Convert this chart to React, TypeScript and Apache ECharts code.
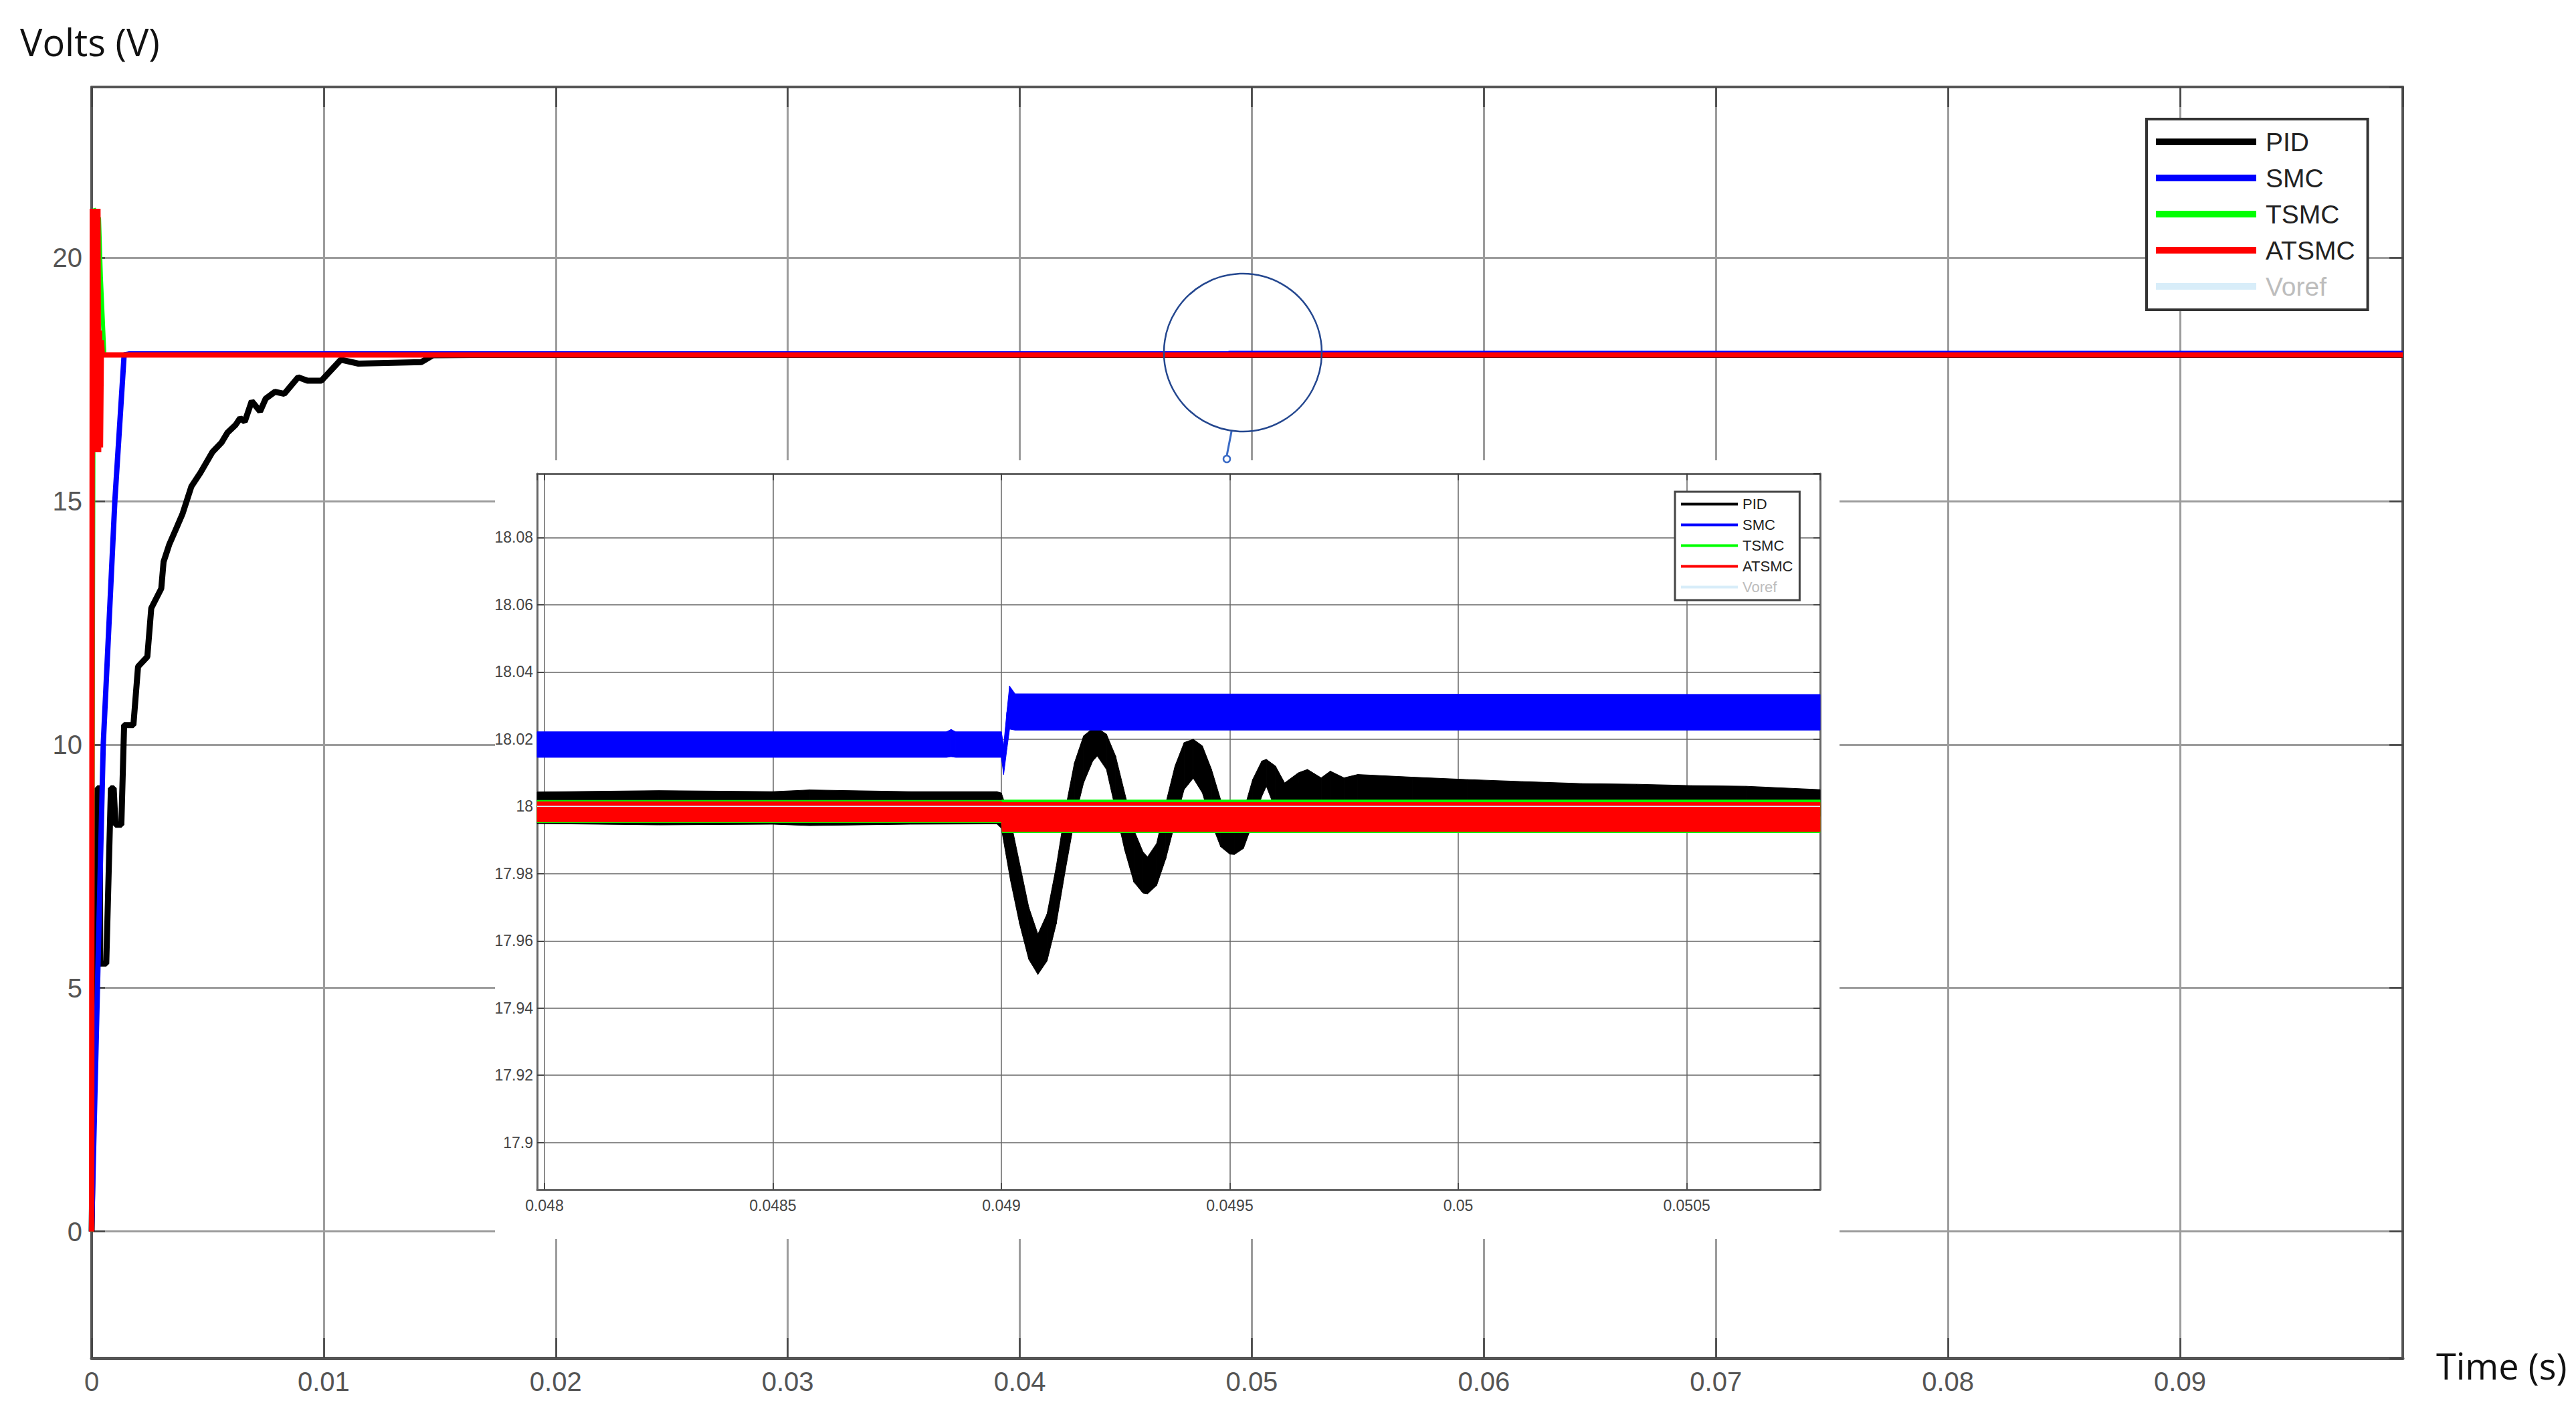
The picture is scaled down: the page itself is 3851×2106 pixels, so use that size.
import React, { useEffect, useRef } from "react";
import * as echarts from "echarts";

// ---------- series identity ----------
const seriesNames = ["PID", "SMC", "TSMC", "ATSMC", "Voref"];
const seriesColors = ["#000000", "#0000ff", "#00ff00", "#ff0000", "#d8edf9"];

// ---------- main chart (time s, volts V) ----------
const vorefTime = [0, 0.0996];
const vorefVolts = [18, 18];

const pidTime = [0, 0.00012, 0.00025, 0.00035, 0.00037, 0.00063, 0.00083, 0.00095, 0.00103, 0.00128, 0.0014, 0.0018, 0.002, 0.0024, 0.00257, 0.003, 0.0031, 0.00334, 0.00366, 0.00392, 0.0043, 0.00469, 0.0052, 0.0056, 0.00585, 0.0062, 0.0064, 0.0066, 0.0069, 0.00726, 0.0075, 0.0079, 0.0083, 0.0089, 0.0093, 0.0099, 0.01074, 0.0115, 0.0142, 0.0147, 0.0167, 0.0996];
const pidVolts = [0, 4.5, 9.1, 9.1, 5.5, 5.5, 9.1, 9.1, 8.35, 8.35, 10.4, 10.4, 11.6, 11.8, 12.8, 13.2, 13.75, 14.1, 14.45, 14.74, 15.3, 15.58, 16.0, 16.2, 16.4, 16.56, 16.7, 16.63, 17.05, 16.84, 17.1, 17.24, 17.2, 17.54, 17.47, 17.47, 17.9, 17.82, 17.85, 17.99, 18.0, 18.0];

const smcTime = [0, 0.00025, 0.0005, 0.001, 0.0014, 0.0016, 0.049, 0.04902, 0.0996];
const smcVolts = [0, 5, 10, 15, 18, 18.018, 18.018, 18.028, 18.028];

const tsmcTime = [0, 0.0001, 0.00032, 0.0004, 0.00055, 0.0996];
const tsmcVolts = [0, 21, 20.8, 19.6, 18, 18];

const atsmcTime = [0, 0.00003, 0.00006, 0.00009, 0.00012, 0.00015, 0.00018, 0.00021, 0.00024, 0.00027, 0.0003, 0.00034, 0.00038, 0.00042, 0.00046, 0.0996];
const atsmcVolts = [0, 21, 16, 21, 16, 21, 16, 21, 16, 21, 16, 18.5, 16.1, 18.3, 18, 18];

// ---------- inset (zoom around t = 0.049 s): ripple bands, top / bottom envelopes ----------
const pidInTime = [0.047984, 0.04825, 0.0485, 0.04858, 0.0488, 0.04899, 0.049, 0.04902, 0.04904, 0.04906, 0.04908, 0.0491, 0.04912, 0.04914, 0.04916, 0.04918, 0.0492, 0.04921, 0.04923, 0.04925, 0.04927, 0.04929, 0.04931, 0.04932, 0.04934, 0.04936, 0.04938, 0.0494, 0.04942, 0.04944, 0.04946, 0.04948, 0.0495, 0.04951, 0.04953, 0.04955, 0.04957, 0.04958, 0.0496, 0.04962, 0.04965, 0.04967, 0.0497, 0.04972, 0.04975, 0.04978, 0.0499, 0.05002, 0.05014, 0.05027, 0.05039, 0.05051, 0.05063, 0.050792];
const pidInTop = [18.0043, 18.0047, 18.0044, 18.0049, 18.0044, 18.0044, 18.004, 17.996, 17.983, 17.97, 17.962, 17.968, 17.982, 17.999, 18.013, 18.021, 18.0232, 18.0233, 18.0215, 18.015, 18.004, 17.993, 17.9865, 17.985, 17.989, 18.001, 18.012, 18.019, 18.02, 18.018, 18.011, 18.002, 17.9945, 17.9924, 17.9985, 18.008, 18.0135, 18.014, 18.012, 18.007, 18.01, 18.011, 18.0085, 18.0105, 18.0085, 18.0095, 18.0087, 18.008, 18.0074, 18.0068, 18.0066, 18.0062, 18.006, 18.005];
const pidInBottom = [17.9949, 17.9945, 17.9947, 17.9943, 17.9947, 17.9948, 17.9935, 17.978, 17.965, 17.9545, 17.95, 17.954, 17.965, 17.981, 17.996, 18.007, 18.0135, 18.015, 18.011, 17.999, 17.987, 17.9775, 17.9742, 17.974, 17.9765, 17.9845, 17.995, 18.005, 18.0084, 18.004, 17.995, 17.988, 17.9858, 17.9857, 17.9875, 17.995, 18.003, 18.006, 17.999, 17.9975, 17.997, 17.997, 17.997, 17.997, 17.997, 17.997, 17.997, 17.997, 17.997, 17.997, 17.997, 17.997, 17.997, 17.997];

const smcInTime = [0.047984, 0.04888, 0.04889, 0.0489, 0.049, 0.049005, 0.049012, 0.049018, 0.04903, 0.050792];
const smcInTop = [18.0222, 18.0222, 18.0229, 18.0222, 18.0222, 18.018, 18.028, 18.0358, 18.0335, 18.0333];
const smcInBottom = [18.0146, 18.0146, 18.0148, 18.0146, 18.0146, 18.0095, 18.017, 18.023, 18.0227, 18.0227];

const tsmcInTime = [0.047984, 0.049, 0.049002, 0.050792];
const tsmcInTop = [18.0018, 18.0018, 18.0019, 18.0019];
const tsmcInBottom = [17.9952, 17.9952, 17.9922, 17.9922];

const atsmcInTime = [0.047984, 0.049, 0.049002, 0.050792];
const atsmcInTop = [18.0014, 18.0014, 18.0012, 18.0012];
const atsmcInBottom = [17.9954, 17.9954, 17.9925, 17.9925];

const vorefInTime = [0.047984, 0.050792];
const vorefInVolts = [18, 18];

// ---------- helpers ----------
const FONT = "Liberation Sans";

function mainLine(idx: number, t: number[], v: number[], width: number) {
  return {
    type: "line",
    name: seriesNames[idx],
    xAxisIndex: 0,
    yAxisIndex: 0,
    data: t.map((x, i) => [x, v[i]]),
    symbol: "none",
    color: seriesColors[idx],
    lineStyle: { color: seriesColors[idx], width, join: "bevel" },
    z: 2,
    silent: true,
  };
}

function insetBand(idx: number, t: number[], top: number[], bottom: number[]) {
  const color = seriesColors[idx];
  return {
    type: "custom",
    name: seriesNames[idx],
    xAxisIndex: 2,
    yAxisIndex: 2,
    color,
    itemStyle: { color },
    encode: { x: 0, y: [1, 2] },
    data: t.map((x, i) => [x, top[i], bottom[i]]),
    z: 4,
    silent: true,
    renderItem: (params: any, api: any) => {
      const i = params.dataIndexInside;
      if (i >= params.dataInsideLength - 1) return null;
      const a = api.coord([api.value(0, i), api.value(1, i)]);
      const b = api.coord([api.value(0, i + 1), api.value(1, i + 1)]);
      const c = api.coord([api.value(0, i + 1), api.value(2, i + 1)]);
      const d = api.coord([api.value(0, i), api.value(2, i)]);
      return {
        type: "polygon",
        shape: { points: [a, b, c, d] },
        style: { fill: color, stroke: color, lineWidth: 1 },
      };
    },
  };
}

function insetLine(idx: number, t: number[], v: number[]) {
  return {
    type: "line",
    name: seriesNames[idx],
    xAxisIndex: 2,
    yAxisIndex: 2,
    data: t.map((x, i) => [x, v[i]]),
    symbol: "none",
    color: seriesColors[idx],
    lineStyle: { color: seriesColors[idx], width: 1.5 },
    z: 4,
    silent: true,
  };
}

function legendData(textColor: string) {
  return seriesNames.map((n, i) => ({
    name: n,
    textStyle: { color: i === 4 ? "#bdbdbd" : textColor },
  }));
}

export default function App() {
  const ref = useRef<HTMLDivElement>(null);

  useEffect(() => {
    if (!ref.current) return;
    const chart = echarts.init(ref.current, null, { renderer: "svg" });

    const mainAxisLine = { show: true, onZero: false, lineStyle: { color: "#555", width: 4 } };
    const insetAxisLine = { show: true, onZero: false, lineStyle: { color: "#666", width: 3 } };

    const option: any = {
      animation: false,
      backgroundColor: "#ffffff",
      grid: [
        { left: 137, top: 130, width: 3455, height: 1900, containLabel: false, outerBoundsMode: "none" },
        { left: 803, top: 708, width: 1918, height: 1070, containLabel: false, outerBoundsMode: "none" },
      ],
      xAxis: [
        {
          type: "value", gridIndex: 0, min: 0, max: 0.0996, interval: 0.01, position: "bottom",
          axisLine: { ...mainAxisLine, lineStyle: { color: "#555", width: 5 } },
          axisTick: { show: true, inside: true, length: 30, lineStyle: { color: "#444", width: 2.5 } },
          axisLabel: { fontSize: 40, color: "#555", fontFamily: FONT, margin: 15, showMaxLabel: false },
          splitLine: { show: true, lineStyle: { color: "#9c9c9c", width: 3 } },
          z: 0,
        },
        {
          type: "value", gridIndex: 0, min: 0, max: 0.0996, interval: 0.01, position: "top",
          axisLine: mainAxisLine,
          axisTick: { show: true, inside: true, length: 30, lineStyle: { color: "#444", width: 2.5 } },
          axisLabel: { show: false },
          splitLine: { show: false },
          z: 0,
        },
        {
          type: "value", gridIndex: 1, min: 0.047984, max: 0.050792, splitNumber: 5, position: "bottom",
          axisLine: insetAxisLine,
          axisTick: { show: true, inside: true, length: 10, lineStyle: { color: "#333", width: 1.5 } },
          axisLabel: { fontSize: 23, color: "#444", fontFamily: FONT, margin: 12, showMinLabel: false, showMaxLabel: false },
          splitLine: { show: true, lineStyle: { color: "#666", width: 1.5 } },
          z: 3,
        },
        {
          type: "value", gridIndex: 1, min: 0.047984, max: 0.050792, splitNumber: 5, position: "top",
          axisLine: insetAxisLine,
          axisTick: { show: true, inside: true, length: 10, lineStyle: { color: "#333", width: 1.5 } },
          axisLabel: { show: false },
          splitLine: { show: false },
          z: 3,
        },
      ],
      yAxis: [
        {
          type: "value", gridIndex: 0, min: -2.6, max: 23.5, splitNumber: 5, position: "left",
          axisLine: mainAxisLine,
          axisTick: { show: true, inside: true, length: 20, lineStyle: { color: "#444", width: 2.5 } },
          axisLabel: { fontSize: 40, color: "#555", fontFamily: FONT, margin: 14, showMinLabel: false, showMaxLabel: false },
          splitLine: { show: true, lineStyle: { color: "#9c9c9c", width: 3 } },
          z: 0,
        },
        {
          type: "value", gridIndex: 0, min: -2.6, max: 23.5, splitNumber: 5, position: "right",
          axisLine: mainAxisLine,
          axisTick: { show: true, inside: true, length: 20, lineStyle: { color: "#444", width: 2.5 } },
          axisLabel: { show: false },
          splitLine: { show: false },
          z: 0,
        },
        {
          type: "value", gridIndex: 1, min: 17.886, max: 18.099, splitNumber: 10, position: "left",
          axisLine: insetAxisLine,
          axisTick: { show: true, inside: true, length: 10, lineStyle: { color: "#333", width: 1.5 } },
          axisLabel: { fontSize: 23, color: "#444", fontFamily: FONT, margin: 6, showMinLabel: false, showMaxLabel: false },
          splitLine: { show: true, lineStyle: { color: "#666", width: 1.5 } },
          z: 3,
        },
        {
          type: "value", gridIndex: 1, min: 17.886, max: 18.099, splitNumber: 10, position: "right",
          axisLine: insetAxisLine,
          axisTick: { show: true, inside: true, length: 10, lineStyle: { color: "#333", width: 1.5 } },
          axisLabel: { show: false },
          splitLine: { show: false },
          z: 3,
        },
      ],
      legend: [
        {
          left: 3209, top: 178, orient: "vertical", selectedMode: false,
          icon: "rect", itemWidth: 150, itemHeight: 10, itemGap: 10,
          padding: [12, 19, 13, 14],
          backgroundColor: "#fff", borderColor: "#333", borderWidth: 4, borderRadius: 0,
          itemStyle: { borderWidth: 0 },
          textStyle: { fontSize: 39, lineHeight: 44, fontFamily: FONT, color: "#222", padding: [0, 0, 0, 9] },
          data: legendData("#222"),
          z: 10,
        },
        {
          left: 2504, top: 735, orient: "vertical", selectedMode: false,
          icon: "rect", itemWidth: 85, itemHeight: 4, itemGap: 6,
          padding: [6, 10, 7, 9],
          backgroundColor: "#fff", borderColor: "#444", borderWidth: 3, borderRadius: 0,
          itemStyle: { borderWidth: 0 },
          textStyle: { fontSize: 22, lineHeight: 25, fontFamily: FONT, color: "#222", padding: [0, 0, 0, 2] },
          data: legendData("#222"),
          z: 10,
        },
      ],
      graphic: {
        elements: [
          { type: "rect", z: 1, silent: true, shape: { x: 740, y: 688, width: 2010, height: 1164 }, style: { fill: "#ffffff" } },
          { type: "circle", z: 10, silent: true, shape: { cx: 1858, cy: 527, r: 118 }, style: { fill: "none", stroke: "#24478f", lineWidth: 2.5 } },
          { type: "line", z: 10, silent: true, shape: { x1: 1841, y1: 645, x2: 1834, y2: 681 }, style: { stroke: "#3a6bc6", lineWidth: 3 } },
          { type: "circle", z: 10, silent: true, shape: { cx: 1834, cy: 686, r: 5 }, style: { fill: "#fff", stroke: "#3a6bc6", lineWidth: 2.5 } },
          {
            type: "text", z: 10, x: 30, y: 62,
            style: { text: "Volts (V)", fontSize: 56, fontFamily: "Open Sans", fill: "#111", align: "left", verticalAlign: "middle", textAlign: "left", textVerticalAlign: "middle" },
          },
          {
            type: "text", z: 10, x: 3642, y: 2041,
            style: { text: "Time (s)", fontSize: 54, fontFamily: "Open Sans", fill: "#111", align: "left", verticalAlign: "middle", textAlign: "left", textVerticalAlign: "middle" },
          },
        ],
      },
      series: [
        mainLine(4, vorefTime, vorefVolts, 4),
        mainLine(0, pidTime, pidVolts, 9),
        mainLine(1, smcTime, smcVolts, 8),
        mainLine(2, tsmcTime, tsmcVolts, 6),
        mainLine(3, atsmcTime, atsmcVolts, 8),
        insetLine(4, vorefInTime, vorefInVolts),
        insetBand(0, pidInTime, pidInTop, pidInBottom),
        insetBand(1, smcInTime, smcInTop, smcInBottom),
        insetBand(2, tsmcInTime, tsmcInTop, tsmcInBottom),
        insetBand(3, atsmcInTime, atsmcInTop, atsmcInBottom),
      ],
    };

    chart.setOption(option);
    return () => chart.dispose();
  }, []);

  return (
    <div
      ref={ref}
      style={{ position: "fixed", left: 0, top: 0, width: 3851, height: 2106, background: "#fff" }}
    />
  );
}
